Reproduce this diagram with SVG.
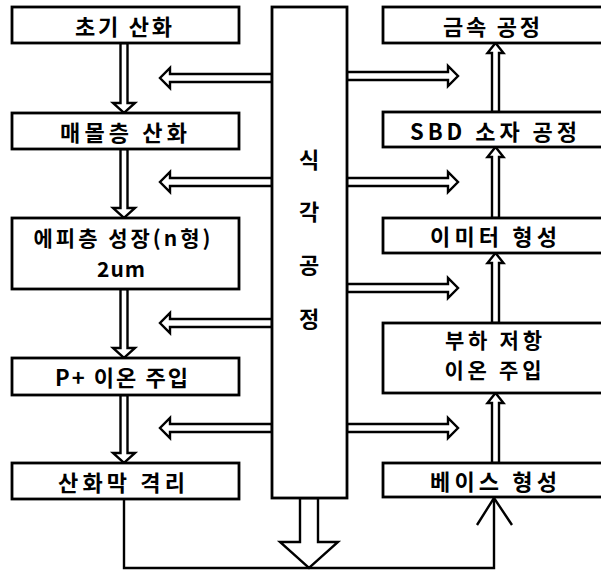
<svg xmlns="http://www.w3.org/2000/svg" width="601" height="572" viewBox="0 0 601 572">
<style>
.box{fill:#fff;stroke:#000;stroke-width:2.8}
.arr{fill:#fff;stroke:#000;stroke-width:2.4;stroke-linejoin:miter}
.ln{fill:none;stroke:#000;stroke-width:2.4}
text{font-family:"Noto Sans CJK KR","Noto Sans",sans-serif;font-weight:bold;font-size:22px;fill:#000;text-anchor:middle;dominant-baseline:central}
.two{font-size:21px}
</style>
<rect width="601" height="572" fill="#fff"/>
<g id="connectors">
<polygon class="arr" points="120.5,43 120.5,103 113,103 124,113 135,103 127.5,103 127.5,43"/>
<polygon class="arr" points="120.5,149 120.5,208 113,208 124,218 135,208 127.5,208 127.5,149"/>
<polygon class="arr" points="120.5,289 120.5,348 113,348 124,358 135,348 127.5,348 127.5,289"/>
<polygon class="arr" points="120.5,395 120.5,453 113,453 124,463 135,453 127.5,453 127.5,395"/>
<polygon class="arr" points="492,112 492,53 487.5,53 495.5,43 503.5,53 499,53 499,112"/>
<polygon class="arr" points="492,218 492,157 487.5,157 495.5,147 503.5,157 499,157 499,218"/>
<polygon class="arr" points="492,323 492,263 487.5,263 495.5,253 503.5,263 499,263 499,323"/>
<polygon class="arr" points="492,463 492,403 487.5,403 495.5,393 503.5,403 499,403 499,463"/>
<polygon class="arr" points="272,74 170,74 170,68 160,78 170,88 170,82 272,82"/>
<polygon class="arr" points="272,178 170,178 170,172 160,182 170,192 170,186 272,186"/>
<polygon class="arr" points="272,319 170,319 170,313 160,323 170,333 170,327 272,327"/>
<polygon class="arr" points="272,424 170,424 170,418 160,428 170,438 170,432 272,432"/>
<polygon class="arr" points="347,72 448,72 448,66 458,76 448,86 448,80 347,80"/>
<polygon class="arr" points="347,178 448,178 448,172 458,182 448,192 448,186 347,186"/>
<polygon class="arr" points="347,284 448,284 448,278 458,288 448,298 448,292 347,292"/>
<polygon class="arr" points="347,424 448,424 448,418 458,428 448,438 448,432 347,432"/>
<polyline class="ln" points="124,499 124,568 494,568 494,498"/>
<polyline class="ln" points="477,525 494,498 512,525"/>
<polygon class="arr" points="300,498 300,542 280,542 309,568 338,542 318,542 318,498"/>
</g>
<g id="n_etch"><rect class="box" x="272" y="7" width="75" height="491"/>
<text x="309" y="158">식</text><text x="309" y="210">각</text><text x="309" y="263">공</text><text x="309" y="317">정</text></g>
<g id="n_l1"><rect class="box" x="12" y="7" width="227" height="36"/><text x="123.5" y="25" textLength="97" lengthAdjust="spacing">초기 산화</text></g>
<g id="n_l2"><rect class="box" x="12" y="113" width="227" height="36"/><text x="123.5" y="131" textLength="127" lengthAdjust="spacing">매몰층 산화</text></g>
<g id="n_l3"><rect class="box" x="12" y="218" width="227" height="71"/><text class="two" x="122" y="237" textLength="177" lengthAdjust="spacing">에피층 성장(n형)</text><text class="two" x="121" y="268" textLength="48" lengthAdjust="spacing">2um</text></g>
<g id="n_l4"><rect class="box" x="12" y="358" width="227" height="37"/><text x="121.5" y="376" textLength="133" lengthAdjust="spacing">P+ 이온 주입</text></g>
<g id="n_l5"><rect class="box" x="12" y="463" width="227" height="36"/><text x="121.5" y="481" textLength="127" lengthAdjust="spacing">산화막 격리</text></g>
<g id="n_r1"><rect class="box" x="383" y="7" width="240" height="36"/><text x="491.5" y="25" textLength="97" lengthAdjust="spacing">금속 공정</text></g>
<g id="n_r2"><rect class="box" x="383" y="112" width="240" height="35"/><text x="493.5" y="130" textLength="167" lengthAdjust="spacing">SBD 소자 공정</text></g>
<g id="n_r3"><rect class="box" x="383" y="218" width="240" height="35"/><text x="493.5" y="235" textLength="127" lengthAdjust="spacing">이미터 형성</text></g>
<g id="n_r4"><rect class="box" x="383" y="323" width="240" height="70"/><text class="two" x="493.5" y="338.5" textLength="97" lengthAdjust="spacing">부하 저항</text><text class="two" x="493" y="368.5" textLength="97" lengthAdjust="spacing">이온 주입</text></g>
<g id="n_r5"><rect class="box" x="383" y="463" width="240" height="34"/><text x="493.5" y="480" textLength="127" lengthAdjust="spacing">베이스 형성</text></g>
</svg>
